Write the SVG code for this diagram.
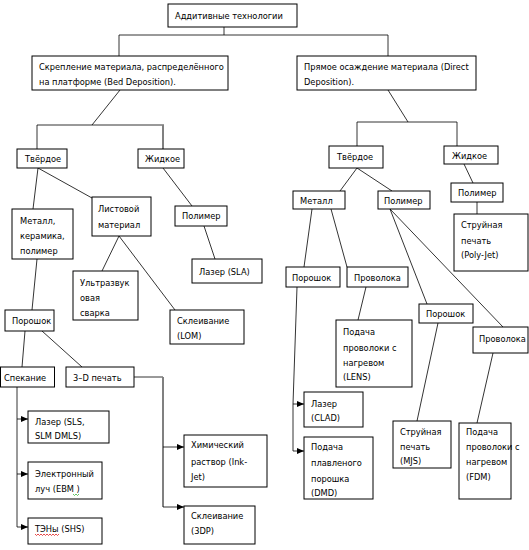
<svg xmlns="http://www.w3.org/2000/svg" width="529" height="550" viewBox="0 0 529 550">
<defs>
<style>
.b{fill:#fff;stroke:#000;stroke-width:1}
.t{font-family:"Liberation Sans Narrow","DejaVu Sans Condensed","Liberation Sans",sans-serif;font-size:9.2px;fill:#000}
.c{fill:none;stroke:#000;stroke-width:0.8}
.g{fill:none;stroke:#808080;stroke-width:2}
.a{fill:none;stroke:#000;stroke-width:0.8;marker-end:url(#ah)}
</style>
<marker id="ah" markerWidth="7" markerHeight="6" refX="7" refY="3" orient="auto" markerUnits="userSpaceOnUse">
<path d="M0,0 L7,3 L0,6 Z" fill="#000"/>
</marker>
</defs>
<rect width="529" height="550" fill="#fff"/>
<g id="connectors">
<path class="c" d="M224,27 V35 M119,35 H388 M119,35 V56 M388,35 V56"/>
<path class="c" d="M120,90 L92,125 M37,125 H164 M37,125 V149"/>
<path class="g" d="M163,125 V149"/>
<path class="c" d="M388,90 L408,122 M357,122 H457 M357,122 V146 M457,122 V146"/>
<path class="c" d="M38,168 L33,209 M38,168 L92,198 M163,168 L192,206 M204,226 L215,259 M119,236 L102,271 M119,236 L175,310 M37,259 L32,310 M25,331 L22,367 M42,331 L82,367"/>
<path class="c" d="M134,377 H163"/>
<path class="g" d="M163,377 V507"/>
<path class="a" d="M163,447 H184"/>
<path class="a" d="M163,507 H184"/>
<path class="c" d="M17,387 V527"/>
<path class="a" d="M17,419 H28"/>
<path class="a" d="M17,474 H28"/>
<path class="a" d="M17,527 H28"/>
<path class="c" d="M357,168 L340,191 M357,168 L392,191 M464,164 L473,183 M477,202 V214 M312,209 L304,267 M331,209 L347,267 M390,209 L427,304 M390,209 L503,327 M366,287 L358,320 M438,323 L417,421 M493,353 L477,423"/>
<path class="c" d="M297,287 L293,404 V451"/>
<path class="a" d="M293,404 H304"/>
<path class="a" d="M293,451 H304"/>
</g>
<g id="n1"><rect class="b" x="168" y="4" width="129" height="23"/><text class="t" x="175" y="19">Аддитивные технологии</text></g>
<g id="n2"><rect class="b" x="32" y="56" width="196" height="34"/><text class="t" x="39" y="70">Скрепление материала, распределённого</text><text class="t" x="39" y="85">на платформе (Bed Deposition).</text></g>
<g id="n3"><rect class="b" x="297" y="56" width="179" height="34"/><text class="t" x="304" y="70">Прямое осаждение материала (Direct</text><text class="t" x="304" y="85">Deposition).</text></g>
<g id="n4"><rect class="b" x="17" y="149" width="50" height="19"/><text class="t" x="25" y="162">Твёрдое</text></g>
<g id="n5"><rect class="b" x="138" y="149" width="46" height="19"/><text class="t" x="145" y="162">Жидкое</text></g>
<g id="n6"><rect class="b" x="12" y="209" width="61" height="50"/><text class="t" x="20" y="224">Металл,</text><text class="t" x="20" y="239">керамика,</text><text class="t" x="20" y="254">полимер</text></g>
<g id="n7"><rect class="b" x="92" y="197" width="59" height="39"/><text class="t" x="98" y="212">Листовой</text><text class="t" x="98" y="228">материал</text></g>
<g id="n8"><rect class="b" x="175" y="206" width="52" height="20"/><text class="t" x="182" y="219">Полимер</text></g>
<g id="n9"><rect class="b" x="192" y="259" width="70" height="24"/><text class="t" x="199" y="275">Лазер  (SLA)</text></g>
<g id="n10"><rect class="b" x="73" y="271" width="65" height="49"/><text class="t" x="80" y="286">Ультразвук</text><text class="t" x="80" y="301">овая</text><text class="t" x="80" y="316">сварка</text></g>
<g id="n11"><rect class="b" x="170" y="310" width="74" height="34"/><text class="t" x="177" y="324">Склеивание</text><text class="t" x="177" y="339">(LOM)</text></g>
<g id="n12"><rect class="b" x="5" y="310" width="49" height="21"/><text class="t" x="12" y="324">Порошок</text></g>
<g id="n13"><rect class="b" x="0.5" y="367" width="54" height="20"/><text class="t" x="4" y="381">Спекание</text></g>
<g id="n14"><rect class="b" x="66" y="367" width="68" height="20"/><text class="t" x="73" y="381">3–D печать</text></g>
<g id="n15"><rect class="b" x="28" y="411" width="81" height="32"/><text class="t" x="35" y="425">Лазер (SLS,</text><text class="t" x="35" y="439">SLM DMLS)</text></g>
<g id="n16"><rect class="b" x="28" y="462" width="74" height="37"/><text class="t" x="35" y="477">Электронный</text><text class="t" x="35" y="492">луч (EBM )</text><path d="M73,494 l1.5,1.5 l1.5,-1.5 l1.5,1.5 l1.5,-1.5" fill="none" stroke="#2a2" stroke-width="0.7"/></g>
<g id="n17"><rect class="b" x="28" y="518" width="74" height="26"/><text class="t" x="35" y="532">ТЭНы (SHS)</text><path d="M35,534 l1.5,1.5 l1.5,-1.5 l1.5,1.5 l1.5,-1.5 l1.5,1.5 l1.5,-1.5 l1.5,1.5 l1.5,-1.5 l1.5,1.5 l1.5,-1.5 l1.5,1.5 l1.5,-1.5 l1.5,1.5 l1.5,-1.5 l1.5,1.5 l1.5,-1.5" fill="none" stroke="#d00" stroke-width="0.7"/></g>
<g id="n18"><rect class="b" x="184" y="435" width="83" height="52"/><text class="t" x="191" y="448">Химический</text><text class="t" x="191" y="465">раствор (Ink-</text><text class="t" x="191" y="480">Jet)</text></g>
<g id="n19"><rect class="b" x="184" y="506" width="71" height="38"/><text class="t" x="191" y="519">Склеивание</text><text class="t" x="191" y="534">(3DP)</text></g>
<g id="n20"><rect class="b" x="329" y="146" width="54" height="22"/><text class="t" x="337" y="160">Твёрдое</text></g>
<g id="n21"><rect class="b" x="444" y="146" width="54" height="18"/><text class="t" x="452" y="159">Жидкое</text></g>
<g id="n22"><rect class="b" x="293" y="191" width="52" height="18"/><text class="t" x="300" y="204">Металл</text></g>
<g id="n23"><rect class="b" x="378" y="191" width="52" height="18"/><text class="t" x="384" y="204">Полимер</text></g>
<g id="n24"><rect class="b" x="451" y="183" width="52" height="19"/><text class="t" x="458" y="196">Полимер</text></g>
<g id="n25"><rect class="b" x="454" y="214" width="74" height="57"/><text class="t" x="461" y="228">Струйная</text><text class="t" x="461" y="244">печать</text><text class="t" x="461" y="258">(Poly-Jet)</text></g>
<g id="n26"><rect class="b" x="286" y="267" width="54" height="20"/><text class="t" x="292" y="281">Порошок</text></g>
<g id="n27"><rect class="b" x="347" y="267" width="61" height="20"/><text class="t" x="354" y="281">Проволока</text></g>
<g id="n28"><rect class="b" x="419" y="304" width="54" height="19"/><text class="t" x="426" y="317">Порошок</text></g>
<g id="n29"><rect class="b" x="473" y="327" width="55" height="26"/><text class="t" x="479" y="342">Проволока</text></g>
<g id="n30"><rect class="b" x="336" y="320" width="76" height="67"/><text class="t" x="343" y="335">Подача</text><text class="t" x="343" y="351">проволоки с</text><text class="t" x="343" y="366">нагревом</text><text class="t" x="343" y="380">(LENS)</text></g>
<g id="n31"><rect class="b" x="304" y="392" width="59" height="35"/><text class="t" x="311" y="407">Лазер</text><text class="t" x="311" y="421">(CLAD)</text></g>
<g id="n32"><rect class="b" x="304" y="437" width="69" height="62"/><text class="t" x="311" y="450">Подача</text><text class="t" x="311" y="466">плавленого</text><text class="t" x="311" y="482">порошка</text><text class="t" x="311" y="496">(DMD)</text></g>
<g id="n33"><rect class="b" x="393" y="421" width="58" height="47"/><text class="t" x="400" y="435">Струйная</text><text class="t" x="400" y="450">печать</text><text class="t" x="400" y="464">(MJS)</text></g>
<g id="n34"><rect class="b" x="459" y="423" width="52" height="76"/><text class="t" x="466" y="435">Подача</text><text class="t" x="466" y="450">проволоки с</text><text class="t" x="466" y="465">нагревом</text><text class="t" x="466" y="480">(FDM)</text></g>
</svg>
